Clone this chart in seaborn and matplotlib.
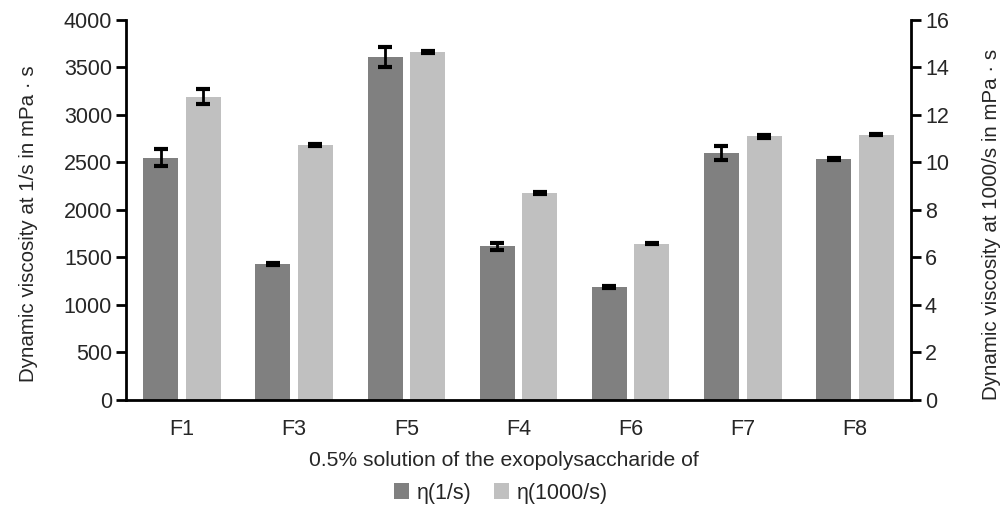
import numpy as np
import pandas as pd
import matplotlib
matplotlib.use("Agg")
import matplotlib.pyplot as plt
import seaborn as sns

categories = ["F1", "F3", "F5", "F4", "F6", "F7", "F8"]
eta_1 = [2551, 1428, 3607, 1617, 1186, 2600, 2540]          # mPa·s, left axis
eta_1_err = [90, 10, 105, 40, 10, 75, 10]
eta_1000 = [12.77, 10.74, 14.64, 8.73, 6.58, 11.10, 11.17]  # mPa·s, right axis
eta_1000_err = [0.31, 0.05, 0.04, 0.04, 0.03, 0.05, 0.02]
series_names = ["η(1/s)", "η(1000/s)"]
colors = ["#808080", "#c0c0c0"]

left_max, right_max = 4000, 16
scale = left_max / right_max

sns.set_theme(style="white")
plt.rcParams["font.family"] = ["Liberation Sans", "DejaVu Sans"]

df = pd.DataFrame({
    "cat": categories * 2,
    "series": [series_names[0]] * len(categories) + [series_names[1]] * len(categories),
    "value": list(eta_1) + [v * scale for v in eta_1000],
    "err": list(eta_1_err) + [e * scale for e in eta_1000_err],
})

fig = plt.figure(figsize=(10.06, 5.12), dpi=100)
ax = fig.add_axes([0.1252, 0.2188, 0.7804, 0.7422])

sns.barplot(data=df, x="cat", y="value", hue="series", hue_order=series_names,
            order=categories, palette=colors, width=0.76, gap=0.18,
            errorbar=None, linewidth=0, ax=ax, legend=True)

# error bars at the bar centres
for container, name in zip(ax.containers, series_names):
    sub = df[df["series"] == name].set_index("cat").loc[categories]
    xs = [p.get_x() + p.get_width() / 2 for p in container.patches]
    ax.errorbar(xs, sub["value"].values, yerr=sub["err"].values, fmt="none",
                ecolor="black", elinewidth=2.0, capsize=4.8, capthick=3, zorder=5)

ax.set_xlim(-0.5, len(categories) - 0.5)
ax.set_ylim(0, left_max)
ax.set_yticks(np.arange(0, left_max + 1, 500))
ax2 = ax.twinx()
ax2.set_ylim(0, right_max)
ax2.set_yticks(np.arange(0, right_max + 1, 2))

fs = 15.5
ax.set_xticks(range(len(categories)))
ax.set_xticklabels(categories, fontsize=fs)
ax.set_xticks(np.arange(-0.5, len(categories)), minor=True)
ax.tick_params(axis="x", which="major", length=0, pad=14)
ax.tick_params(axis="x", which="minor", length=7, width=2, color="black", direction="out")
ax.tick_params(axis="y", which="major", length=7, width=2, color="black",
               direction="out", labelsize=fs, pad=3, left=True)
ax2.tick_params(axis="y", which="major", length=7, width=2, color="black",
                direction="out", labelsize=fs, pad=3, right=True)

for a in (ax, ax2):
    for s in a.spines.values():
        s.set_visible(False)
ax.spines["left"].set_visible(True)
ax.spines["bottom"].set_visible(True)
ax2.spines["right"].set_visible(True)
for s in (ax.spines["left"], ax.spines["bottom"], ax2.spines["right"]):
    s.set_color("black")
    s.set_linewidth(2)

ax.set_xlabel("0.5% solution of the exopolysaccharide of", fontsize=15.2)
ax.xaxis.set_label_coords(0.481, -0.135)
ax.set_ylabel("Dynamic viscosity at 1/s in mPa · s", fontsize=14.8)
ax.yaxis.set_label_coords(-0.112, 0.463)
ax2.set_ylabel("Dynamic viscosity at 1000/s in mPa · s", fontsize=14.8)
ax2.yaxis.set_label_coords(1.091, 0.463)

handles, labels = ax.get_legend_handles_labels()
ax.get_legend().remove()
fig.legend(handles[:2], labels[:2], loc="center", bbox_to_anchor=(0.498, 0.037),
           ncol=2, frameon=False, fontsize=fs, handlelength=0.7, handleheight=0.7,
           handletextpad=0.4, columnspacing=1.0)

fig.savefig("out.png", dpi=100)
